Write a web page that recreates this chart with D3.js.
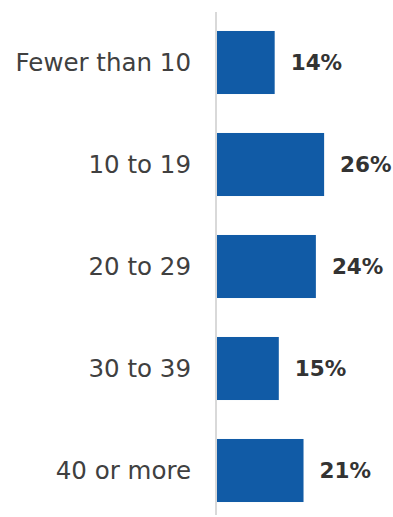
<!DOCTYPE html>
<html>
<head>
<meta charset="utf-8">
<script src="https://cdn.jsdelivr.net/npm/d3@7"></script>
<style>
  html, body { margin: 0; padding: 0; background: #ffffff; }
  svg { display: block; }
</style>
</head>
<body>
<svg id="chart" width="393" height="517"></svg>
<script>
// Share of respondents by group size
const categories = ["Fewer than 10", "10 to 19", "20 to 29", "30 to 39", "40 or more"];
const values = [14, 26, 24, 15, 21];

const svg = d3.select("#chart");
const baseX = 217;

const y = d3.scaleBand()
  .domain(categories)
  .range([11.5, 521.5])
  .paddingInner(0.382)
  .paddingOuter(0.191);

const x = d3.scaleLinear()
  .domain([0, 30])
  .range([baseX, baseX + 123.6]);

// vertical baseline
svg.append("line")
  .attr("x1", baseX - 1).attr("x2", baseX - 1)
  .attr("y1", 12).attr("y2", 515)
  .attr("stroke", "#d9d9d9")
  .attr("stroke-width", 2);

// bars
svg.selectAll("rect.bar")
  .data(categories)
  .join("rect")
  .attr("class", "bar")
  .attr("x", x(0))
  .attr("y", d => y(d))
  .attr("width", (d, i) => x(values[i]) - x(0))
  .attr("height", y.bandwidth())
  .attr("fill", "#115ba6");

// category labels
svg.selectAll("text.cat")
  .data(categories)
  .join("text")
  .attr("class", "cat")
  .attr("x", 191)
  .attr("y", d => y(d) + y.bandwidth() / 2)
  .attr("dy", "0.35em")
  .attr("text-anchor", "end")
  .attr("font-family", "'DejaVu Sans', sans-serif")
  .attr("font-size", 24.5)
  .attr("fill", "#404040")
  .text(d => d);

// value labels
svg.selectAll("text.val")
  .data(categories)
  .join("text")
  .attr("class", "val")
  .attr("x", (d, i) => x(values[i]) + 16)
  .attr("y", d => y(d) + y.bandwidth() / 2)
  .attr("dy", "0.35em")
  .attr("font-family", "'DejaVu Sans', sans-serif")
  .attr("font-weight", "bold")
  .attr("font-size", 21.5)
  .attr("fill", "#333333")
  .text((d, i) => values[i] + "%");
</script>
</body>
</html>
